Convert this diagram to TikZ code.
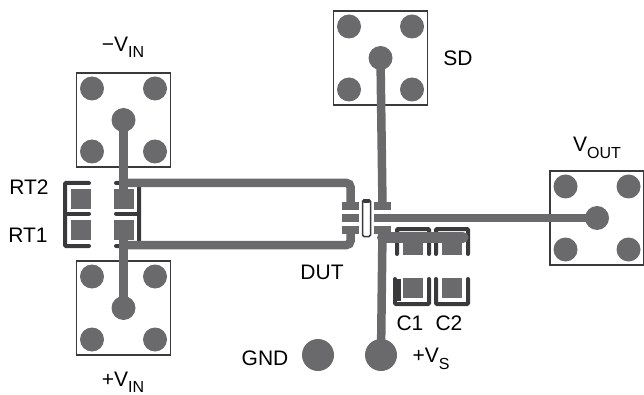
\documentclass[tikz,border=0pt]{standalone}
\usepackage{fontspec}
\setmainfont{Liberation Sans}
\usetikzlibrary{positioning}
\definecolor{tracegray}{HTML}{6A6A6C}
\definecolor{silkgray}{HTML}{3A3A3C}
\newcommand{\lowtext}[1]{\raisebox{-.3em}{\fontsize{16}{16}\selectfont #1}}
\begin{document}
\begin{tikzpicture}[
x=1pt, y=-1pt,
board/.style ={rectangle, draw=silkgray, line width=1.3pt, minimum width=94pt, minimum height=94pt, inner sep=0pt},
hole/.style  ={circle, fill=tracegray, minimum size=24pt, inner sep=0pt},
post/.style  ={circle, fill=tracegray, minimum size=32pt, inner sep=0pt},
pad/.style   ={rectangle, fill=tracegray, inner sep=0pt, minimum width=20pt, minimum height=20pt},
lead/.style  ={rectangle, fill=tracegray, inner sep=0pt, minimum width=17pt, minimum height=8.5pt},
silk/.style  ={draw=silkgray, line width=4pt, rounded corners=1pt, line cap=round},
line/.style  ={draw=tracegray, line width=8.5pt, rounded corners=4pt},
tag/.style   ={font=\fontsize{21}{23}\selectfont, inner sep=0pt},
node distance=0pt,
]
\useasboundingbox (0,0) rectangle (644,395);

% Silk screen
\draw[silk] (89,183) -- (65,183) -- (65,246) -- (89,246);
\draw[silk] (65,213.5) -- (89,213.5);
\draw[silk] (116,183) -- (139,183) -- (139,246) -- (116,246);
\draw[silk] (116,213.5) -- (139,213.5);
\draw[silk] (397,254) -- (397,229) -- (429,229) -- (429,254);
\draw[silk] (436,254) -- (436,229) -- (468,229) -- (468,254);
\draw[silk, line width=7pt, rounded corners=0pt, line cap=butt] (397,279) -- (397,301);
\draw[silk] (395,279) -- (395,304) -- (429,304) -- (429,279);
\draw[silk] (436,279) -- (436,304) -- (468,304) -- (468,279);
\draw[draw=silkgray, fill=white, line width=1.5pt, rounded corners=1.5pt] (362.5,200) rectangle (370.5,236.5);
\draw[silk] (364.5,201) -- (368.5,201);

% Define the nodes
\node[board] (vinm) at (123.5,120) {};
\node[board] (vinp) at (123.5,308) {};
\node[board] (sd)   at (380.5,58)  {};
\node[board] (vout) at (597,218)   {};

\foreach \brd in {vinm,vinp,sd,vout}{
  \node[hole] (\brd c)  at (\brd.center)        {};
  \node[hole] (\brd nw) at ([shift={(-31.5,-31.5)}]\brd.center) {};
  \node[hole] (\brd ne) at ([shift={(31.5,-31.5)}]\brd.center)  {};
  \node[hole] (\brd sw) at ([shift={(-31.5,31.5)}]\brd.center)  {};
  \node[hole] (\brd se) at ([shift={(31.5,31.5)}]\brd.center)   {};
}

\node[post] (gnd) at (318,355) {};
\node[post] (vs)  at (381,355) {};

\node[pad] (rt2l) at (81,199)    {};
\node[pad] (rt2r) at (123.5,199) {};
\node[pad] (rt1l) at (81,230)    {};
\node[pad] (rt1r) at (123.5,230) {};

\node[lead] (dut1) at (350.5,206) {};
\node[lead] (dut2) at (350.5,218) {};
\node[lead] (dut3) at (350.5,230) {};
\node[lead] (dut4) at (382.5,206) {};
\node[lead] (dut5) at (382.5,218) {};
\node[lead] (dut6) at (382.5,230) {};

\node[pad, minimum height=22pt] (c1t) at (412.5,244) {};
\node[pad, minimum height=22pt] (c2t) at (452,244)   {};
\node[pad] (c1b) at (413,288)   {};
\node[pad] (c2b) at (452,288)   {};

\coordinate (rtup)  at (123.5,183);
\coordinate (rtlow) at (123.5,245);
\coordinate (cend)  at (463,237.5);

\node[tag] (lvinm) at (123,47)    {\textminus V\lowtext{IN}};
\node[tag] (lvinp) at (123,382)   {+V\lowtext{IN}};
\node[tag] (lsd)   at (458,58)    {SD};
\node[tag] (lvout) at (597,148)   {V\lowtext{OUT}};
\node[tag] (lrt2)  at (29,187)    {RT2};
\node[tag] (lrt1)  at (28,235)    {RT1};
\node[tag] (ldut)  at (322,272)   {DUT};
\node[tag] (lc1)   at (410,323)   {C1};
\node[tag] (lc2)   at (449,323)   {C2};
\node[tag] (lgnd)  at (265,358)   {GND};
\node[tag] (lvs)   at (431,359)   {+V\lowtext{S}};

% Connect the nodes
\path[line] (vinmc.center) -- (rt2r.center);
\path[line] (vinpc.center) -- (rt1r.center);
\path[line] (rtup) -| (dut1.center);
\path[line] (rtlow) -| (dut3.center);
\path[line] (sdc.center) -- (dut4.center);
\path[line] (dut5.center) -- (voutc.center);
\path[line] (dut6.center) -- (vs.center);
\path[draw=tracegray, line width=11pt, line cap=round] (dut6.center |- cend) -- (cend);
\end{tikzpicture}
\end{document}
